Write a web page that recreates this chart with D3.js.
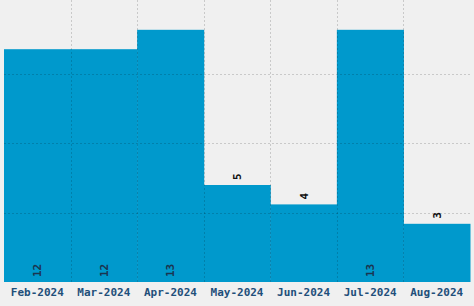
<!DOCTYPE html>
<html><head><meta charset="utf-8">
<script src="https://cdn.jsdelivr.net/npm/d3@7"></script>
<style>html,body{margin:0;padding:0;background:#f0f0f0;}svg{display:block;}</style>
</head><body>
<script>
const categories = ["Feb-2024","Mar-2024","Apr-2024","May-2024","Jun-2024","Jul-2024","Aug-2024"];
const values = [12, 12, 13, 5, 4, 13, 3];
const yMax = 14.33;

const W = 474, H = 306;
const m = {left: 4, right: 4, top: 4, bottom: 24};
const svg = d3.select("body").append("svg").attr("width", W).attr("height", H);
svg.append("rect").attr("width", W).attr("height", H).attr("fill", "#f0f0f0");

const x = d3.scaleBand().domain(categories).range([m.left, W - m.right]).padding(0);
const y = d3.scaleLinear().domain([0, yMax]).range([H - m.bottom, m.top]);

// bars
svg.append("g").selectAll("rect").data(values).join("rect")
  .attr("x", (d, i) => x(categories[i]))
  .attr("width", x.bandwidth() + 0.5)
  .attr("y", d => y(d))
  .attr("height", d => y(0) - y(d))
  .attr("fill", "#0099cc");

// grid on top
const grid = svg.append("g").attr("stroke", "#000").attr("stroke-opacity", 0.16)
  .attr("stroke-width", 1).attr("stroke-dasharray", "2,2");
categories.slice(1).forEach(c => {
  const xx = Math.round(x(c)) + 0.5;
  grid.append("line").attr("x1", xx).attr("x2", xx).attr("y1", 0).attr("y2", y(0));
});
[1, 2, 3].forEach(k => {
  const yy = Math.round(y(yMax * k / 4)) + 0.5;
  grid.append("line").attr("x1", m.left).attr("x2", W - m.right).attr("y1", yy).attr("y2", yy);
});

// value labels
const font = "'DejaVu Sans Mono', monospace";
svg.append("g").selectAll("text").data(values).join("text")
  .each(function(d, i) {
    const cx = x(categories[i]) + x.bandwidth() / 2;
    const inside = d > 8;
    const ty = inside ? y(0) - 5 : y(d) - 5;
    d3.select(this)
      .attr("transform", `translate(${cx + 4},${ty}) rotate(-90)`)
      .attr("text-anchor", "start")
      .attr("fill", inside ? "#1b3550" : "#111")
      .text(d);
  })
  .attr("font-family", font).attr("font-weight", "bold").attr("font-size", "11px");

// x axis labels
const xAxis = d3.axisBottom(x).tickSize(0).tickPadding(6);
const ax = svg.append("g").attr("transform", `translate(0,${y(0)})`).call(xAxis);
ax.select(".domain").remove();
ax.selectAll("text").attr("font-family", font).attr("font-weight", "bold")
  .attr("font-size", "11px").attr("fill", "#1f4f7a");
</script>
</body></html>
